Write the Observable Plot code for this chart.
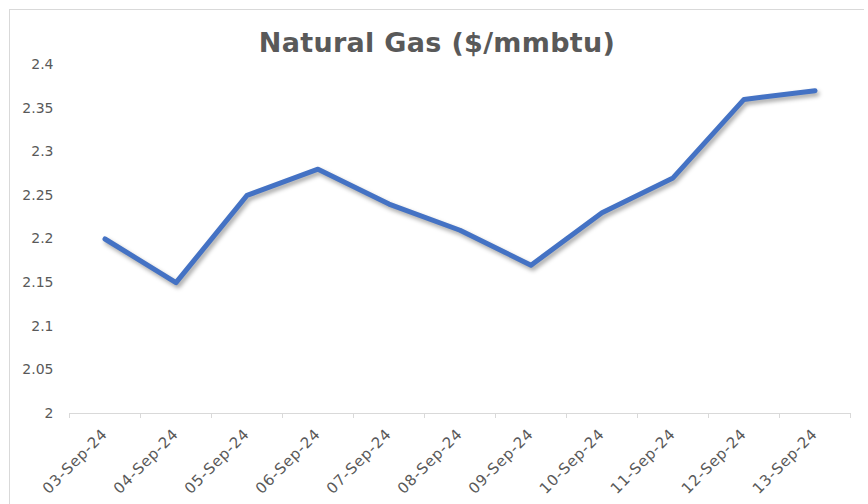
<!DOCTYPE html>
<html>
<head>
<meta charset="utf-8">
<script src="https://cdn.jsdelivr.net/npm/d3@7"></script>
<script src="https://cdn.jsdelivr.net/npm/@observablehq/plot@0.6"></script>
<style>
  html, body { margin: 0; padding: 0; background: #ffffff; }
  body { position: relative; width: 868px; height: 504px; overflow: hidden; font-family: "DejaVu Sans", sans-serif; }
  #frame { position: absolute; left: 9px; top: 9px; width: 854px; height: 500px; border-top: 1px solid #d9d9d9; border-left: 1px solid #d9d9d9; pointer-events: none; }
  #title { position: relative; height: 58px; box-sizing: border-box; padding-top: 28px; text-align: center; font-size: 27px; font-weight: bold; color: #595959; line-height: 30px; padding-left: 6px; letter-spacing: 0.3px; }
  #chart svg { display: block; background: transparent; overflow: visible; }
  #chart g[aria-label="line"] path { filter: drop-shadow(2px 3px 2px rgba(0,0,0,0.35)); }
  #chart g[aria-label="x-axis tick label"] text { letter-spacing: 0.8px; }
</style>
</head>
<body>
<div id="frame"></div>
<div id="title">Natural Gas ($/mmbtu)</div>
<div id="chart"></div>
<script>
const categories = ["03-Sep-24","04-Sep-24","05-Sep-24","06-Sep-24","07-Sep-24","08-Sep-24","09-Sep-24","10-Sep-24","11-Sep-24","12-Sep-24","13-Sep-24"];
const prices = [2.20, 2.15, 2.25, 2.28, 2.24, 2.21, 2.17, 2.23, 2.27, 2.36, 2.37];
const yTicks = [2, 2.05, 2.1, 2.15, 2.2, 2.25, 2.3, 2.35, 2.4];

const data = categories.map((c, i) => ({i, date: c, price: prices[i]}));
const boundaries = d3.range(categories.length + 1).map(k => k - 0.5);

const chart = Plot.plot({
  width: 868,
  height: 446,
  marginLeft: 69,
  marginRight: 18,
  marginTop: 6,
  marginBottom: 91,
  style: {background: "transparent", color: "#595959", fontFamily: "DejaVu Sans, sans-serif", fontSize: "14px", overflow: "visible"},
  x: {domain: [-0.5, categories.length - 0.5], axis: null},
  y: {domain: [2, 2.4], axis: null},
  marks: [
    Plot.axisY({ticks: yTicks, tickSize: 0, tickPadding: 16, tickFormat: d => String(+d.toFixed(2)), fontSize: 14, fill: "#595959", label: null}),
    Plot.ruleY([2], {stroke: "#d9d9d9", strokeWidth: 1.2}),
    Plot.axisX({ticks: boundaries, tickSize: 5, stroke: "#d9d9d9", tickFormat: () => "", label: null}),
    Plot.axisX({ticks: d3.range(categories.length), tickSize: 0, tickPadding: 18, tickRotate: -45, tickFormat: i => categories[i], fontSize: 15, fill: "#595959", label: null}),
    Plot.line(data, {x: "i", y: "price", stroke: "#4472C4", strokeWidth: 5, strokeLinejoin: "round", strokeLinecap: "round"})
  ]
});
document.getElementById("chart").appendChild(chart);
</script>
</body>
</html>
